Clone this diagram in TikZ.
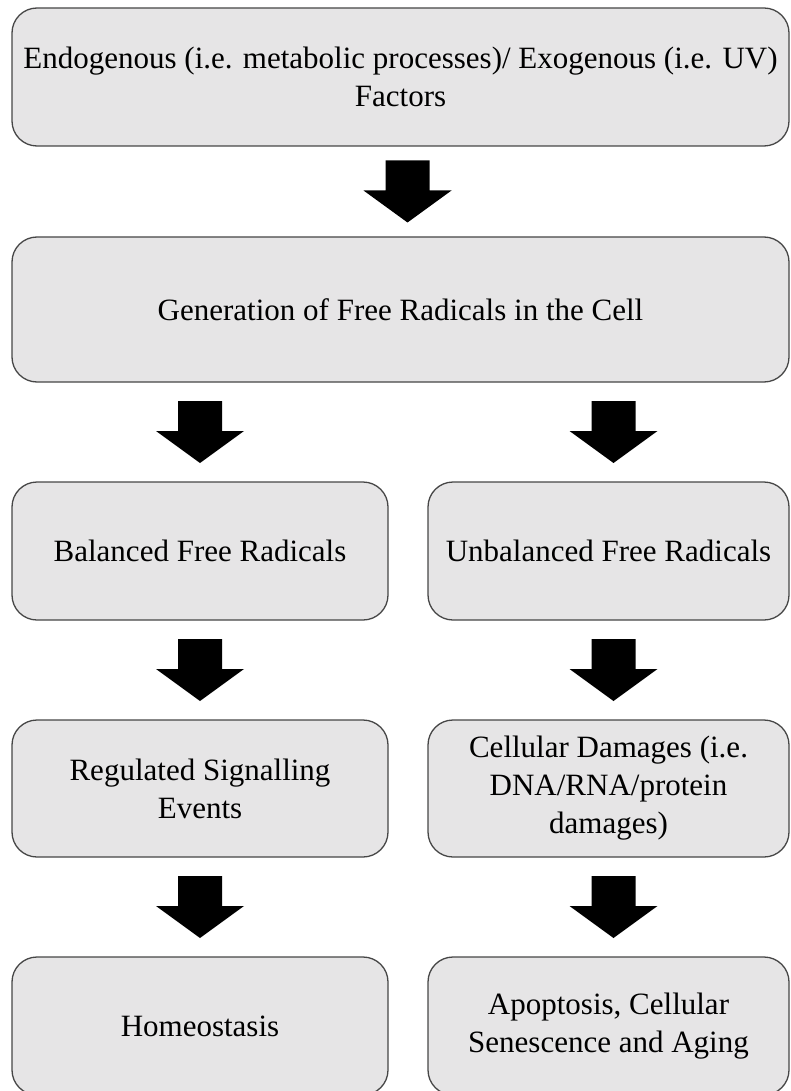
\documentclass[tikz,border=0pt]{standalone}
\usepackage{fontspec}
\setmainfont{Liberation Serif}
\definecolor{boxfill}{RGB}{230,229,230}
\definecolor{boxline}{RGB}{70,70,70}
\tikzset{
  box/.style={draw=boxline,fill=boxfill,rounded corners=25pt,line width=1.3pt,align=center,inner sep=0pt,
    font=\fontsize{31}{38}\selectfont,minimum height=138pt},
  wide/.style={box,minimum width=777pt},
  half/.style={box,minimum width=376pt},
  pics/downarrow/.style={code={\fill[black] (-22,31)--(22,31)--(22,1)--(44,1)--(0,-31)--(-44,1)--(-22,1)--cycle;}}
}
\begin{document}
\begin{tikzpicture}[x=1pt,y=1pt]
			\useasboundingbox (0,0) rectangle (790,-1091);
			\clip (0,0) rectangle (790,-1091);
			\node[wide] (fac) at (400.5,-77) {Endogenous (i.e. metabolic processes)/ Exogenous (i.e. UV)\\Factors};
			\node[wide,minimum height=145pt] (gen) at (400.5,-309.5) {Generation of Free Radicals in the Cell};
			\node[half] (bal) at (200,-551) {Balanced Free Radicals};
			\node[half,minimum width=361pt] (unb) at (608.5,-551) {Unbalanced Free Radicals};
			\node[half,minimum height=137pt] (reg) at (200,-788.5) {Regulated Signalling\\Events};
			\node[half,minimum width=361pt,minimum height=137pt] (dam) at (608.5,-788.5) {Cellular Damages (i.e.\\DNA/RNA/protein\\damages)};
			\node[half] (hom) at (200,-1026) {Homeostasis};
			\node[half,minimum width=361pt] (apo) at (608.5,-1026) {Apoptosis, Cellular\\Senescence and Aging};
			\path (fac.south) -- (gen.north) coordinate[midway,xshift=7pt] (a1)
			(gen.south-|bal.north) -- (bal.north) coordinate[midway] (a2)
			(gen.south-|unb.north) -- (unb.north) coordinate[midway,xshift=5pt] (b2)
			(bal.south) -- (reg.north) coordinate[midway] (a3)
			(unb.south) -- (dam.north) coordinate[midway,xshift=5pt] (b3)
			(reg.south) -- (hom.north) coordinate[midway] (a4)
			(dam.south) -- (apo.north) coordinate[midway,xshift=5pt] (b4);
			\foreach \c in {a1,a2,b2,a3,b3,a4,b4}
				\pic at (\c) {downarrow};
		\end{tikzpicture}
\end{document}
